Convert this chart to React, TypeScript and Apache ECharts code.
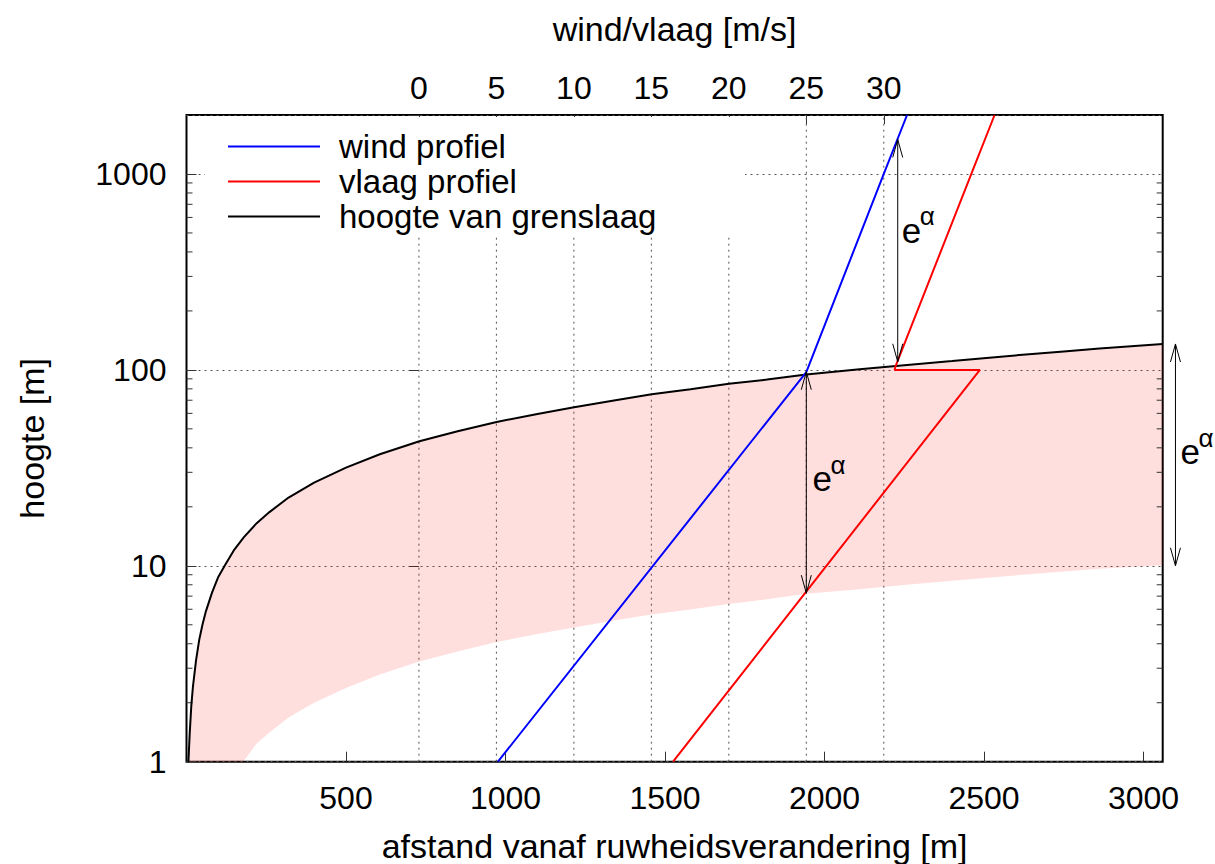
import React, { useEffect, useRef } from "react";
import * as echarts from "echarts";

// ---- data ----
// boundary layer height (black) vs distance
const distance = [6, 10, 15, 20, 30, 40, 50, 60, 80, 100, 121, 150, 180, 220, 260, 320, 400, 500, 606, 730, 850, 972, 1100, 1215, 1340, 1458, 1580, 1700, 1820, 1943, 2110, 2250, 2400, 2611, 2750, 2862, 3060];
const boundaryHeight = [1.0, 1.39, 1.92, 2.4, 3.3, 4.2, 5.0, 5.8, 7.3, 8.8, 10.1, 12.1, 14.0, 16.5, 18.8, 22.3, 26.6, 31.7, 37.1, 43.2, 48.6, 54.2, 59.6, 64.4, 69.8, 75.0, 79.7, 85.0, 89.2, 94.6, 100.7, 105.7, 111, 119.1, 124.1, 128.4, 135.6];
// lower edge of the shaded band
const lowerDistance = [178, 220, 260, 320, 400, 500, 606, 730, 850, 972, 1100, 1215, 1340, 1458, 1580, 1700, 1820, 1943, 2110, 2250, 2400, 2611, 2750, 2862, 3060];
const lowerHeight = [1.0, 1.24, 1.41, 1.68, 2.0, 2.38, 2.79, 3.25, 3.65, 4.08, 4.48, 4.84, 5.25, 5.64, 5.99, 6.39, 6.74, 7.2, 7.6, 7.98, 8.38, 8.97, 9.35, 9.66, 10.05];
// wind profile (blue)
const windSpeed = [5.1, 25.0, 30.0, 31.5];
const windHeight = [1, 97.5, 1000, 2000];
// gust profile (red)
const gustSpeed = [16.4, 36.2, 30.7, 30.75, 35.65, 37.15];
const gustHeight = [1, 100, 100, 104, 1000, 2000];
// top axis ticks
const speedTicks = [0, 5, 10, 15, 20, 25, 30];
// log minor ticks
const heightMinorTicks = [2, 3, 4, 5, 6, 7, 8, 9, 20, 30, 40, 50, 60, 70, 80, 90, 200, 300, 400, 500, 600, 700, 800, 900];
// arrows: [x, yTop, yBottom, labelX, labelY]
const speedArrows = [
  [25.0, 97.9, 7.25, 26.02, 27.8],
  [30.9, 1500, 110, 31.78, 515],
];
const distanceArrows = [[3100, 135.6, 10.0, 3146, 38.2]];

const X_MAX = 3060;
const X2_MIN = -15;
const X2_MAX = 48;
const Y_MIN = 1;
const Y_MAX = 2000;

const FONT = "'Liberation Sans', Arial, Helvetica, sans-serif";

function renderArrow(params: any, api: any) {
  const x = api.value(0);
  const a = api.coord([x, api.value(1)]);
  const b = api.coord([x, api.value(2)]);
  const t = api.coord([api.value(3), api.value(4)]);
  const top = a[1] < b[1] ? a : b;
  const bot = a[1] < b[1] ? b : a;
  const hl = 18;
  const hw = 5;
  const st = { stroke: "#000", lineWidth: 1, fill: "none" };
  return {
    type: "group",
    children: [
      { type: "line", shape: { x1: top[0], y1: top[1], x2: bot[0], y2: bot[1] }, style: st },
      { type: "polyline", shape: { points: [[top[0] - hw, top[1] + hl], [top[0], top[1]], [top[0] + hw, top[1] + hl]] }, style: st },
      { type: "polyline", shape: { points: [[bot[0] - hw, bot[1] - hl], [bot[0], bot[1]], [bot[0] + hw, bot[1] - hl]] }, style: st },
      { type: "text", x: t[0], y: t[1], style: { text: "e", fontSize: 35, fontFamily: FONT, fill: "#000", align: "center", verticalAlign: "middle" } },
      { type: "text", x: t[0] + 16, y: t[1] - 14, style: { text: "α", fontSize: 26, fontFamily: FONT, fill: "#000", align: "center", verticalAlign: "middle" } },
    ],
  };
}

const plain = (v: number) => String(v);

export default function App() {
  const ref = useRef<HTMLDivElement>(null);
  useEffect(() => {
    const chart = echarts.init(ref.current!, null, { renderer: "svg" });
    const tickText = { fontSize: 32, fontFamily: FONT, color: "#000" };
    const nameText = { fontSize: 34, fontFamily: FONT, color: "#000" };
    const option: any = {
      animation: false,
      backgroundColor: "#fff",
      grid: {
        left: 186.5,
        top: 115,
        right: 52.3,
        bottom: 102.3,
        show: true,
        borderColor: "#000",
        borderWidth: 2,
        backgroundColor: "transparent",
        outerBoundsMode: "none",
      },
      legend: {
        data: ["wind profiel", "vlaag profiel", "hoogte van grenslaag"],
        orient: "vertical",
        left: 228,
        top: 130,
        padding: 0,
        itemWidth: 92,
        itemHeight: 2,
        itemGap: 2,
        icon: "rect",
        selectedMode: false,
        z: 6,
        textStyle: { fontSize: 33, fontFamily: FONT, color: "#000", lineHeight: 32, padding: [0, 0, 0, 14] },
      },
      graphic: [
        { type: "rect", shape: { x: 205, y: 117, width: 540, height: 118 }, style: { fill: "#fff" }, z: 2, silent: true },
      ],
      xAxis: [
        {
          type: "value",
          position: "bottom",
          min: 0,
          max: X_MAX,
          interval: 500,
          name: "afstand vanaf ruwheidsverandering [m]",
          nameLocation: "middle",
          nameGap: 67,
          nameTextStyle: nameText,
          axisLine: { show: false },
          axisTick: { inside: true, length: 10, lineStyle: { color: "#333" } },
          axisLabel: { ...tickText, margin: 20, showMinLabel: false, showMaxLabel: false, formatter: plain },
          splitLine: { show: false },
        },
        {
          type: "value",
          position: "top",
          min: X2_MIN,
          max: X2_MAX,
          interval: 5,
          name: "wind/vlaag [m/s]",
          nameLocation: "middle",
          nameGap: 69,
          nameTextStyle: nameText,
          axisLine: { show: false },
          axisTick: { inside: true, length: 9, customValues: speedTicks, lineStyle: { color: "#333" } },
          axisLabel: { ...tickText, margin: 11, customValues: speedTicks, formatter: plain },
          splitLine: { show: false },
        },
      ],
      yAxis: [
        {
          type: "log",
          logBase: 10,
          min: Y_MIN,
          max: Y_MAX,
          position: "left",
          name: "hoogte [m]",
          nameLocation: "middle",
          nameGap: 138,
          nameTextStyle: nameText,
          axisLine: { show: false },
          axisTick: { inside: true, length: 10, lineStyle: { color: "#333" } },
          axisLabel: { ...tickText, margin: 20, showMaxLabel: false, formatter: plain },
          splitLine: { show: true, lineStyle: { type: [2, 4], color: "#555", width: 1 } },
        },
        {
          type: "log",
          logBase: 10,
          min: Y_MIN,
          max: Y_MAX,
          position: "right",
          axisLine: { show: false },
          axisTick: { inside: true, length: 10, lineStyle: { color: "#333" } },
          axisLabel: { show: false },
          splitLine: { show: false },
        },
      ],
      series: [
        {
          type: "custom",
          name: "grid2",
          xAxisIndex: 1,
          yAxisIndex: 0,
          z: 1,
          silent: true,
          data: speedTicks.map((v) => [v, Y_MIN]),
          renderItem: (params: any, api: any) => {
            const p0 = api.coord([api.value(0), Y_MIN]);
            const p1 = api.coord([api.value(0), Y_MAX]);
            return {
              type: "line",
              shape: { x1: p0[0], y1: p0[1], x2: p1[0], y2: p1[1] },
              style: { stroke: "#555", lineWidth: 1, lineDash: [2, 4] },
            };
          },
        },
        {
          type: "custom",
          name: "band",
          xAxisIndex: 0,
          yAxisIndex: 0,
          z: 1,
          silent: true,
          data: [[distance[0], boundaryHeight[0]]],
          renderItem: (params: any, api: any) => {
            const pts: number[][] = [];
            distance.forEach((d, i) => pts.push(api.coord([d, boundaryHeight[i]])));
            for (let i = lowerDistance.length - 1; i >= 0; i--) pts.push(api.coord([lowerDistance[i], lowerHeight[i]]));
            return { type: "polygon", shape: { points: pts }, style: { fill: "rgba(255,0,0,0.13)" } };
          },
        },
        {
          type: "custom",
          name: "minorTicks",
          xAxisIndex: 0,
          yAxisIndex: 0,
          z: 3,
          silent: true,
          data: heightMinorTicks.map((v) => [0, v]),
          renderItem: (params: any, api: any) => {
            const l = api.coord([0, api.value(1)]);
            const r = api.coord([X_MAX, api.value(1)]);
            const st = { stroke: "#333", lineWidth: 1 };
            return {
              type: "group",
              children: [
                { type: "line", shape: { x1: l[0], y1: l[1], x2: l[0] + 6, y2: l[1] }, style: st },
                { type: "line", shape: { x1: r[0] - 6, y1: r[1], x2: r[0], y2: r[1] }, style: st },
              ],
            };
          },
        },
        {
          type: "line",
          name: "hoogte van grenslaag",
          xAxisIndex: 0,
          yAxisIndex: 0,
          z: 4,
          symbol: "none",
          color: "#000",
          itemStyle: { color: "#000" },
          lineStyle: { color: "#000", width: 2 },
          data: distance.map((d, i) => [d, boundaryHeight[i]]),
        },
        {
          type: "line",
          name: "wind profiel",
          xAxisIndex: 1,
          yAxisIndex: 0,
          z: 4,
          symbol: "none",
          color: "#0000ff",
          itemStyle: { color: "#0000ff" },
          lineStyle: { color: "#0000ff", width: 2 },
          data: windSpeed.map((v, i) => [v, windHeight[i]]),
        },
        {
          type: "line",
          name: "vlaag profiel",
          xAxisIndex: 1,
          yAxisIndex: 0,
          z: 4,
          symbol: "none",
          color: "#ff0000",
          itemStyle: { color: "#ff0000" },
          lineStyle: { color: "#ff0000", width: 2 },
          data: gustSpeed.map((v, i) => [v, gustHeight[i]]),
        },
        {
          type: "custom",
          name: "arrowsSpeed",
          xAxisIndex: 1,
          yAxisIndex: 0,
          z: 5,
          silent: true,
          data: speedArrows,
          renderItem: renderArrow,
        },
        {
          type: "custom",
          name: "arrowsDistance",
          xAxisIndex: 0,
          yAxisIndex: 0,
          z: 5,
          silent: true,
          clip: false,
          data: distanceArrows,
          renderItem: renderArrow,
        },
      ],
    };
    chart.setOption(option);
    return () => chart.dispose();
  }, []);
  return (
    <div
      ref={ref}
      style={{ position: "absolute", left: 0, top: 0, width: 1215, height: 864, background: "#fff" }}
    />
  );
}
